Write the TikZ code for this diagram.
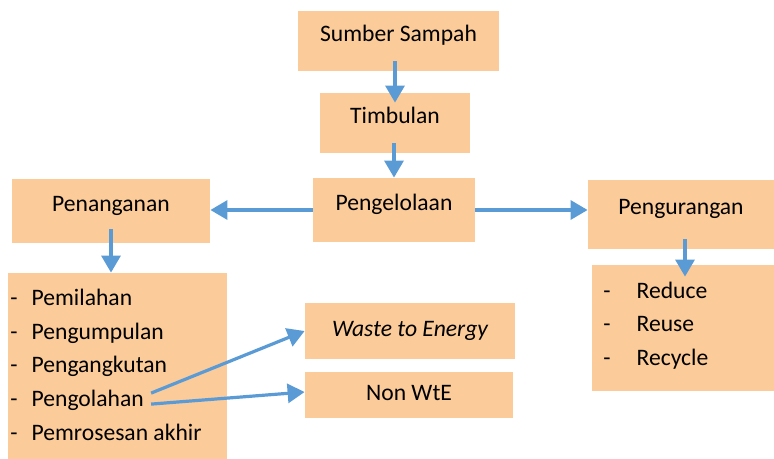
\documentclass[tikz,border=0pt]{standalone}
\usepackage{fontspec}
\setmainfont{Carlito}
\usetikzlibrary{positioning, arrows.meta}
\definecolor{peach}{RGB}{251,203,153}
\definecolor{arblue}{RGB}{91,155,213}

\begin{document}
\begin{tikzpicture}[x=0.5pt, y=-0.5pt,
    every node/.style = {font=\fontsize{11.8}{14}\selectfont},
    blk/.style = {fill=peach, inner sep=0pt, align=center,
      text height=8pt, text depth=7.5pt},
    itm/.style = {anchor=west, inner sep=0pt,
      text height=8pt, text depth=2.5pt},
    arw/.style = {draw=arblue, line width=1.6pt,
      -{Triangle[length=8.5pt, width=9.5pt]}},
    dn/.style = {arw, shorten <=-5pt},
  ]
\useasboundingbox (0,0) rectangle (774,459);
% top chain
\node[blk, minimum width=100.5pt, minimum height=30pt] (sumber)
    at (398.5,41) {Sumber Sampah};
\node[blk, minimum width=75pt, minimum height=30pt] (timbulan)
    at (395,123) {Timbulan};
\node[blk, minimum width=81pt, minimum height=32pt] (kelola)
    at (394,210) {Pengelolaan};
\node[blk, minimum width=99pt, minimum height=32pt] (tangan)
    at (111,211) {Penanganan};
\node[blk, minimum width=93pt, minimum height=34.5pt] (kurang)
    at (681,214.5) {Pengurangan};
% lists
\node[blk, minimum width=109.5pt, minimum height=96pt] (tanganL)
    at (117.5,369) {};
\node[blk, minimum width=91pt, minimum height=63pt] (kurangL)
    at (683,328) {};
\node[blk, text depth=2.5pt, minimum width=105pt, minimum height=28pt] (wte)
    at (410,331) {\itshape Waste to Energy};
\node[blk, text depth=2.5pt, minimum width=104pt, minimum height=23pt] (nonwte)
    at (409,395) {Non WtE};
\foreach \t [count=\i] in {Pemilahan, Pengumpulan, Pengangkutan,
                           Pengolahan, Pemrosesan akhir}
  \node[itm] (h\i) at (10,300+33.7*\i-33.7) {-\hspace{7pt}\t};
\foreach \t [count=\i] in {Reduce, Reuse, Recycle}
  \node[itm] (r\i) at (603,293+33.3*\i-33.3) {-\hspace{13pt}\t};
% arrows
\draw[dn, shorten >=-5pt] (timbulan.north |- sumber.south) -- (timbulan.north);
\draw[dn] (kelola.north |- timbulan.south) -- (kelola.north);
\draw[arw] (kelola.west) -- (kelola.west -| tangan.east);
\draw[arw] (kelola.east) -- (kelola.east -| kurang.west);
\draw[dn, shorten <=-7pt] (tangan.south) -- (tangan.south |- tanganL.north);
\draw[dn, shorten >=-6pt] ([xshift=2pt]kurang.south)
    -- ([xshift=2pt]kurang.south |- kurangL.north);
\draw[arw] ([xshift=3.5pt, yshift=4pt]h4.east) -- (wte.west);
\draw[arw] ([xshift=3.5pt, yshift=-1.5pt]h4.east) -- ([yshift=1.5pt]nonwte.west);
\end{tikzpicture}
\end{document}
